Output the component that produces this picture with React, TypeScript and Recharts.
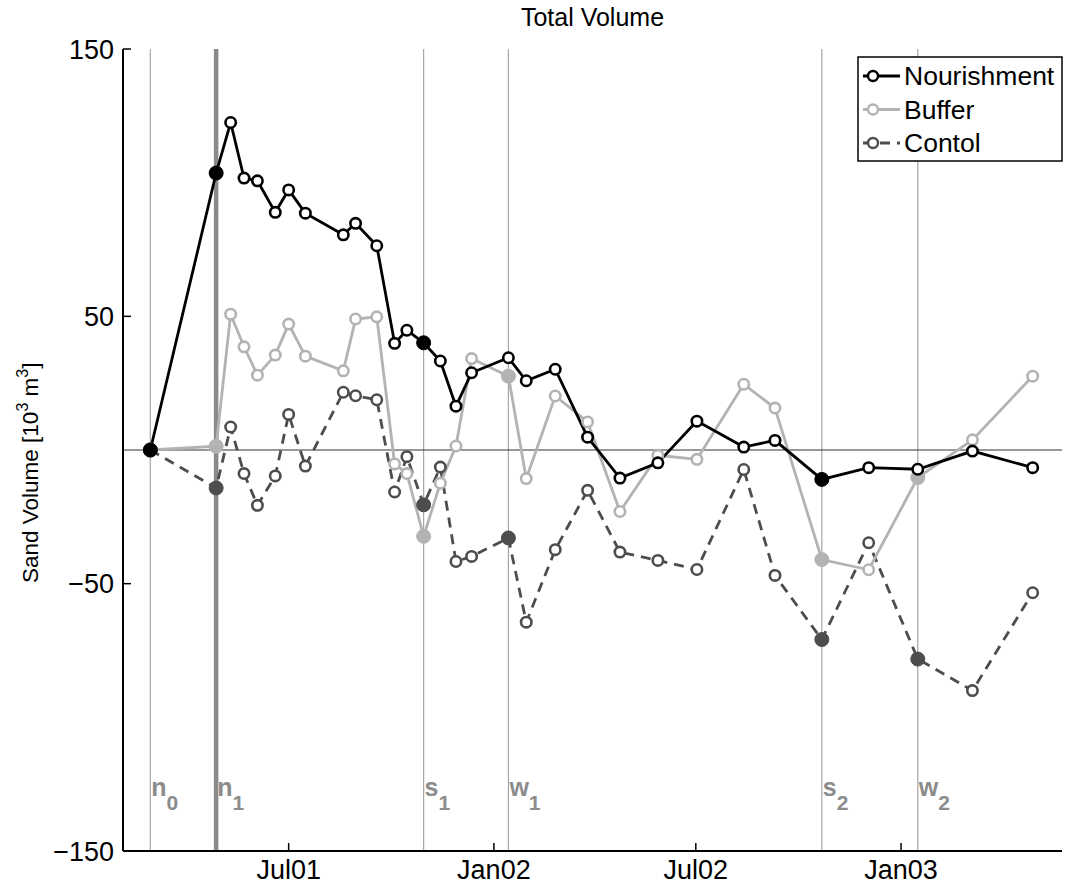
import { FC } from 'react'
import { Line, LineChart, ReferenceLine, XAxis, YAxis } from 'recharts'

// survey dates shared by all three profiles
const surveyDates = [
  '2001-02-27', '2001-04-27', '2001-05-10', '2001-05-22', '2001-06-03', '2001-06-19',
  '2001-07-01', '2001-07-16', '2001-08-19', '2001-08-30', '2001-09-18', '2001-10-04',
  '2001-10-15', '2001-10-30', '2001-11-14', '2001-11-28', '2001-12-12', '2002-01-14',
  '2002-01-30', '2002-02-25', '2002-03-26', '2002-04-24', '2002-05-28', '2002-07-02',
  '2002-08-13', '2002-09-10', '2002-10-22', '2002-12-03', '2003-01-16', '2003-03-06',
  '2003-04-29',
]

const nourishment = [
  0, 103.6, 122.5, 101.7, 100.7, 88.9, 97.3, 88.6, 80.5, 84.8, 76.4, 39.9,
  44.8, 40.1, 33.3, 16.4, 28.9, 34.5, 25.9, 30.2, 4.8, -10.5, -4.8, 10.8,
  1.1, 3.6, -11.0, -6.6, -7.2, -0.4, -6.6,
]

const buffer = [
  0, 1.4, 50.8, 38.6, 28, 35.5, 47.1, 35.1, 29.6, 49, 49.8, -5.2,
  -8.8, -32.3, -12.4, 1.5, 34.2, 27.6, -10.7, 20.2, 10.5, -23, -2, -3.5,
  24.6, 15.7, -41, -44.8, -10.3, 3.8, 27.6,
]

const control = [
  0, -14.2, 8.6, -8.8, -20.7, -9.7, 13.3, -6, 21.6, 20.3, 18.8, -15.7,
  -2.5, -20.5, -6.4, -41.7, -39.8, -32.9, -64.4, -37.3, -15.1, -38.2, -41.3, -44.7,
  -7.3, -46.9, -70.9, -34.7, -78.2, -90, -53.4,
]

// surveys drawn with solid markers
const nourishmentFilled = [0, 1, 13, 26]
const bufferFilled = [0, 1, 13, 17, 26, 28]
const controlFilled = [0, 1, 13, 17, 26, 28]

// nourishment (n), storm (s) and winter (w) events
const eventDates = ['2001-02-27', '2001-04-27', '2001-10-30', '2002-01-14', '2002-10-22', '2003-01-16']
const eventLetters = ['n', 'n', 's', 'w', 's', 'w']
const eventSubs = ['0', '1', '1', '1', '2', '2']

const xTickDates = ['2001-07-01', '2002-01-01', '2002-07-01', '2003-01-01']
const xTickLabels = ['Jul01', 'Jan02', 'Jul02', 'Jan03']
const xLimits = ['2001-02-02T12:00Z', '2003-05-25T07:00Z']
const yTicks = [-150, -50, 50, 150]

const FONT = '"Liberation Sans", Arial, Helvetica, sans-serif'
const C_NOUR = '#000000'
const C_BUF = '#b3b3b3'
const C_CTRL = '#4d4d4d'
const CTRL_DASH = '10 7'

const toTime = (d: string) => Date.parse(d.length === 10 ? d + 'T00:00Z' : d)

const data = surveyDates.map((d, i) => ({
  t: toTime(d),
  nourishment: nourishment[i],
  buffer: buffer[i],
  control: control[i],
}))

const xDomain = xLimits.map(toTime)
const xTicks = xTickDates.map(toTime)

const makeDot = (color: string, filled: number[]) => (props: any) => {
  const { cx, cy, index } = props
  if (cx == null || cy == null) return <g key={index} />
  return filled.includes(index)
    ? <circle key={index} cx={cx} cy={cy} r={7} fill={color} stroke={color} strokeWidth={1} />
    : <circle key={index} cx={cx} cy={cy} r={5.2} fill="#fff" stroke={color} strokeWidth={2.6} />
}

const eventLabel = (letter: string, sub: string) => (props: any) => {
  const { x, y, height } = props.viewBox
  return (
    <text x={x + 1} y={y + height - 55} fill="#8c8c8c" fontFamily={FONT} fontWeight="bold" fontSize={25}>
      {letter}
      <tspan dy={14} fontSize={21}>{sub}</tspan>
    </text>
  )
}

// rotated label, written from its bottom end upwards
const yTitle = () => {
  const x = 38
  const y = 583
  return (
    <text x={x} y={y} transform={`rotate(-90 ${x} ${y})`} textAnchor="start"
      fontFamily={FONT} fontSize={22.5} fill="#000">
      Sand Volume [10<tspan dy={-10} fontSize={16}>3</tspan>
      <tspan dy={10}> m</tspan>
      <tspan dy={-10} fontSize={16}>3</tspan>
      <tspan dy={10}>]</tspan>
    </text>
  )
}

const legendRows = [
  { name: 'Nourishment', color: C_NOUR, dash: undefined },
  { name: 'Buffer', color: C_BUF, dash: undefined },
  { name: 'Contol', color: C_CTRL, dash: CTRL_DASH },
]

const LegendBox: FC = () => (
  <svg width={206} height={106} style={{ position: 'absolute', left: 857, top: 56 }}>
    <rect x={1} y={1} width={204} height={104} fill="#fff" stroke="#000" strokeWidth={1.5} />
    {legendRows.map((r, i) => {
      const y = 20 + i * 33.5
      return (
        <g key={r.name}>
          <line x1={6} x2={43} y1={y} y2={y} stroke={r.color} strokeWidth={2.8} strokeDasharray={r.dash} />
          <circle cx={16} cy={y} r={5} fill="#fff" stroke={r.color} strokeWidth={2.4} />
          <text x={47} y={y} dominantBaseline="central" fontFamily={FONT} fontSize={26.5} fill="#000">{r.name}</text>
        </g>
      )
    })}
  </svg>
)

const App: FC = () => (
  <div style={{ position: 'absolute', left: 0, top: 0, width: 1068, height: 885, background: '#fff' }}>
    <div style={{
      position: 'absolute', left: 123, width: 939, top: 3, textAlign: 'center',
      fontFamily: FONT, fontSize: 25, color: '#000',
    }}>
      Total Volume
    </div>

    <LineChart width={1068} height={885} data={data} margin={{ top: 49, right: 6, left: 0, bottom: 0 }}>
      <XAxis
        dataKey="t" type="number" domain={xDomain} ticks={xTicks} allowDataOverflow
        tickFormatter={(v: number) => xTickLabels[xTicks.indexOf(v)] ?? ''}
        height={34} tickSize={-8} tickMargin={17}
        stroke="#000" axisLine={{ stroke: '#000', strokeWidth: 2 }} tickLine={{ stroke: '#000', strokeWidth: 1.5 }}
        tick={{ fill: '#000', fontSize: 27, fontFamily: FONT }}
      />
      <XAxis
        xAxisId="top" orientation="top" type="number" domain={xDomain} ticks={xTicks} allowDataOverflow
        height={0} tickSize={-8} tick={false}
        axisLine={{ stroke: '#000', strokeWidth: 2 }} tickLine={{ stroke: '#000', strokeWidth: 1.5 }}
      />
      <YAxis
        type="number" domain={[-150, 150]} ticks={yTicks} allowDataOverflow
        width={123} tickSize={-8} tickMargin={17}
        tickFormatter={(v: number) => (v < 0 ? `\u2212${-v}` : `${v}`)}
        axisLine={{ stroke: '#000', strokeWidth: 2 }} tickLine={{ stroke: '#000', strokeWidth: 1.5 }}
        tick={{ fill: '#000', fontSize: 27, fontFamily: FONT }}
        label={yTitle}
      />
      <YAxis
        yAxisId="right" orientation="right" type="number" domain={[-150, 150]} ticks={yTicks} allowDataOverflow
        width={0} tickSize={-8} tick={false}
        axisLine={{ stroke: '#000', strokeWidth: 2 }} tickLine={{ stroke: '#000', strokeWidth: 1.5 }}
      />

      {eventDates.map((d, i) => (
        <ReferenceLine
          key={d}
          x={toTime(d)}
          stroke={i === 1 ? '#8a8a8a' : '#a6a6a6'}
          strokeWidth={i === 1 ? 4.5 : 1.2}
          label={eventLabel(eventLetters[i], eventSubs[i])}
        />
      ))}
      <ReferenceLine y={0} stroke="#333" strokeWidth={1.2} />

      <Line
        dataKey="control" stroke={C_CTRL} strokeWidth={2.8} strokeDasharray={CTRL_DASH}
        dot={makeDot(C_CTRL, controlFilled)} isAnimationActive={false}
      />
      <Line
        dataKey="buffer" stroke={C_BUF} strokeWidth={2.8}
        dot={makeDot(C_BUF, bufferFilled)} isAnimationActive={false}
      />
      <Line
        dataKey="nourishment" stroke={C_NOUR} strokeWidth={2.8}
        dot={makeDot(C_NOUR, nourishmentFilled)} isAnimationActive={false}
      />
    </LineChart>

    <LegendBox />
  </div>
)

export default App
